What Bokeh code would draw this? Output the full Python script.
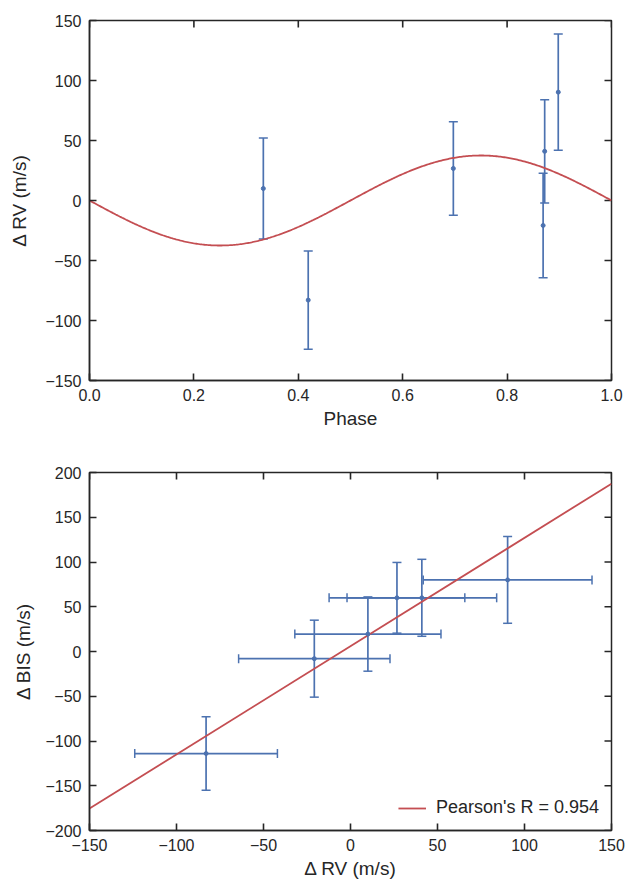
import numpy as np
from bokeh.plotting import figure
from bokeh.layouts import column
from bokeh.models import ColumnDataSource, Whisker, TeeHead, FixedTicker, Range1d
from bokeh.embed import file_html
from bokeh.resources import INLINE

# ---- data ----
phase = [0.333, 0.419, 0.697, 0.869, 0.872, 0.898]
rv = [10.0, -83.0, 26.7, -20.8, 41.0, 90.3]
rv_err = [42.0, 41.0, 39.0, 43.5, 43.0, 48.5]
bis = [19.5, -114.0, 60.0, -8.0, 60.0, 80.0]
bis_err = [41.5, 41.0, 39.5, 43.0, 43.0, 48.5]
K_model = 37.5
fit_slope = 1.21
fit_intercept = 6.0
fit_x = [-150, 150]
pearson_label = "Pearson's R = 0.954"

top_xlim = (0.0, 1.0)
top_ylim = (-150, 150)
bot_xlim = (-150, 150)
bot_ylim = (-200, 200)
top_xticks = [0.0, 0.2, 0.4, 0.6, 0.8, 1.0]
top_yticks = [-150, -100, -50, 0, 50, 100, 150]
bot_xticks = [-150, -100, -50, 0, 50, 100, 150]
bot_yticks = [-200, -150, -100, -50, 0, 50, 100, 150, 200]

BLUE = "#4C72B0"
RED = "#C44E52"
AX = "#262626"
FONT = "Liberation Sans"
TICK_FS = "16px"
LAB_FS = "19px"


def lab(v, dec=False):
    s = f"{v:.1f}" if dec else f"{int(v)}"
    return s.replace("-", "\u2212")


def style_axis(ax, ticks, labels):
    ax.ticker = FixedTicker(ticks=ticks)
    ax.major_label_overrides = {t: l for t, l in zip(ticks, labels)}
    ax.axis_line_color = AX
    ax.axis_line_width = 1.5
    ax.major_tick_line_color = AX
    ax.major_tick_line_width = 1.6
    ax.major_tick_in = 7
    ax.major_tick_out = 0
    ax.minor_tick_line_color = None
    ax.major_label_text_font = FONT
    ax.major_label_text_color = AX
    ax.major_label_text_font_size = TICK_FS
    ax.major_label_standoff = 8
    ax.axis_label_text_font = FONT
    ax.axis_label_text_font_style = "normal"
    ax.axis_label_text_color = AX
    ax.axis_label_text_font_size = LAB_FS


def frame_ticks(p, xt, yt, xlim, ylim):
    # inward ticks on the top and right edges of the frame
    p.scatter(xt, [ylim[1]] * len(xt), marker="dash", angle=np.pi / 2, size=14,
              line_color=AX, line_width=1.6)
    p.scatter([xlim[1]] * len(yt), yt, marker="dash", size=14,
              line_color=AX, line_width=1.6)


def errbars(p, src, base, upper, lower, dim):
    w = Whisker(source=src, base=base, upper=upper, lower=lower, dimension=dim,
                line_color=BLUE, line_width=1.7,
                upper_head=TeeHead(size=9, line_color=BLUE, line_width=1.5),
                lower_head=TeeHead(size=9, line_color=BLUE, line_width=1.5))
    p.add_layout(w)


src = ColumnDataSource(dict(
    phase=phase, rv=rv, bis=bis,
    rv_lo=[r - e for r, e in zip(rv, rv_err)], rv_hi=[r + e for r, e in zip(rv, rv_err)],
    bis_lo=[b - e for b, e in zip(bis, bis_err)], bis_hi=[b + e for b, e in zip(bis, bis_err)],
))

# ---- top panel ----
p1 = figure(width=626, height=440, output_backend="svg", toolbar_location=None,
            x_range=Range1d(*top_xlim), y_range=Range1d(*top_ylim),
            min_border_left=86, min_border_right=15, min_border_top=20, min_border_bottom=60)
p1.grid.visible = False
p1.outline_line_color = AX
p1.outline_line_width = 1.5
style_axis(p1.xaxis[0], top_xticks, [lab(v, True) for v in top_xticks])
style_axis(p1.yaxis[0], top_yticks, [lab(v) for v in top_yticks])
p1.xaxis[0].axis_label = "Phase"
p1.yaxis[0].axis_label = "\u0394 RV (m/s)"
p1.xaxis[0].axis_label_standoff = 4
p1.yaxis[0].axis_label_standoff = 12
frame_ticks(p1, top_xticks, top_yticks, top_xlim, top_ylim)

ph = np.linspace(0, 1, 400)
p1.line(ph, -K_model * np.sin(2 * np.pi * ph), line_color=RED, line_width=1.8)
errbars(p1, src, "phase", "rv_hi", "rv_lo", "height")
p1.scatter("phase", "rv", source=src, size=4, color=BLUE)

# ---- bottom panel ----
p2 = figure(width=626, height=441, output_backend="svg", toolbar_location=None,
            x_range=Range1d(*bot_xlim), y_range=Range1d(*bot_ylim),
            min_border_left=89, min_border_right=15, min_border_top=32, min_border_bottom=49)
p2.grid.visible = False
p2.outline_line_color = AX
p2.outline_line_width = 1.5
style_axis(p2.xaxis[0], bot_xticks, [lab(v) for v in bot_xticks])
style_axis(p2.yaxis[0], bot_yticks, [lab(v) for v in bot_yticks])
p2.xaxis[0].axis_label = "\u0394 RV (m/s)"
p2.yaxis[0].axis_label = "\u0394 BIS (m/s)"
p2.xaxis[0].axis_label_standoff = 4
p2.yaxis[0].axis_label_standoff = 8
frame_ticks(p2, bot_xticks, bot_yticks, bot_xlim, bot_ylim)

fit_y = [fit_slope * x + fit_intercept for x in fit_x]
p2.line(fit_x, fit_y, line_color=RED, line_width=1.8, legend_label=pearson_label)
errbars(p2, src, "rv", "bis_hi", "bis_lo", "height")
errbars(p2, src, "bis", "rv_hi", "rv_lo", "width")
p2.scatter("rv", "bis", source=src, size=4, color=BLUE)

lg = p2.legend[0]
lg.location = "bottom_right"
lg.border_line_color = None
lg.background_fill_alpha = 0
lg.label_text_font = FONT
lg.label_text_font_size = "18px"
lg.label_text_color = AX
lg.glyph_width = 28
lg.label_standoff = 10
lg.margin = 12
lg.padding = 4

layout = column(p1, p2, spacing=0)
open("out.html", "w").write(file_html(layout, INLINE))
